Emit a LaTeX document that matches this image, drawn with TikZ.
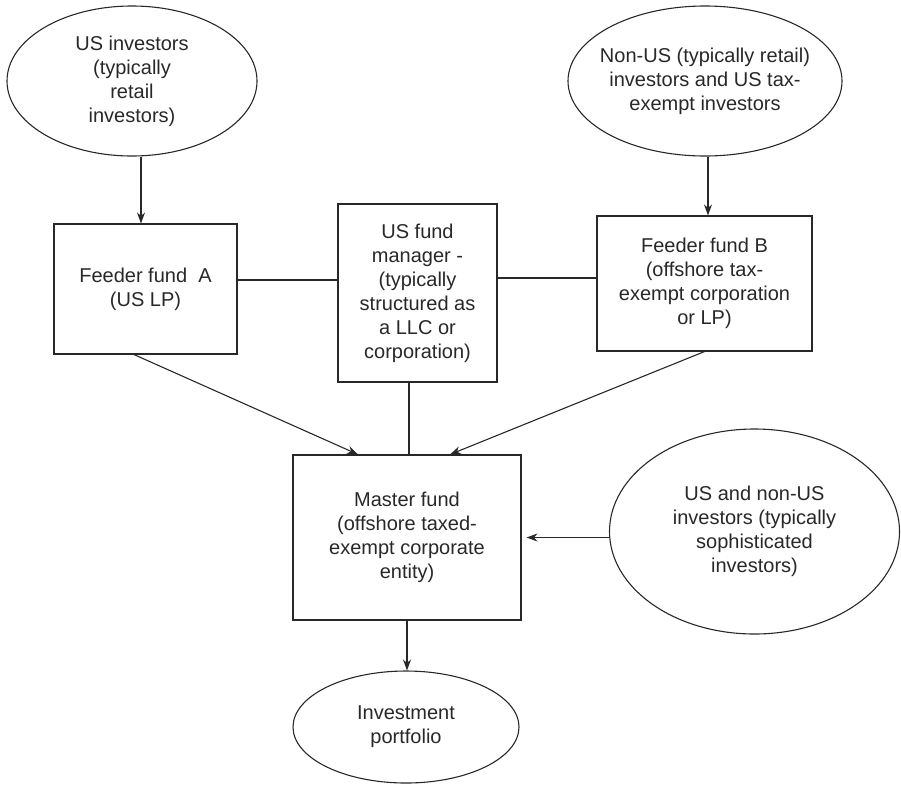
\documentclass[tikz,border=0pt]{standalone}
\usepackage{fontspec}
\setmainfont{Liberation Sans}
\usetikzlibrary{shapes.geometric,arrows.meta,calc}
\definecolor{ink}{RGB}{40,40,40}
\begin{document}
\begin{tikzpicture}[x=1pt,y=-1pt,
  every node/.style={font=\fontsize{20}{24}\selectfont, text=ink, align=center, inner sep=0pt},
  box/.style={draw=ink, line width=1.1pt, rectangle},
  oval/.style={draw=ink, line width=1.1pt, ellipse},
  lbl/.style={draw=none},
  arr/.style={draw=ink, line width=1.1pt, -{Stealth[length=11pt,width=8pt]}},
  ln/.style={draw=ink, line width=1.1pt}]
\useasboundingbox (0,0) rectangle (901,785);

\node[oval, minimum width=250pt, minimum height=150pt] (e1) at (132,81)
  {US investors\\(typically\\retail\\investors)};
\node[oval, minimum width=274pt, minimum height=150pt,
  label={[lbl]center:{Non-US (typically retail)\\investors and US tax-\\exempt investors}}] (e2) at (705,81) {};
\node[box, minimum width=183pt, minimum height=130pt] (a) at (145.5,289)
  {Feeder fund\ \ A\\(US LP)};
\node[box, minimum width=159pt, minimum height=178pt] (m) at (417.5,293)
  {US fund\\manager -\\(typically\\structured as\\a LLC or\\corporation)};
\node[box, minimum width=215pt, minimum height=135pt] (b) at (704.5,283.5)
  {Feeder fund B\\(offshore tax-\\exempt corporation\\or LP)};
\node[box, minimum width=228pt, minimum height=165pt] (f) at (407,537.5)
  {Master fund\\(offshore taxed-\\exempt corporate\\entity)};
\node[oval, minimum width=290pt, minimum height=205pt] (e3) at (754.5,531.5)
  {US and non-US\\investors (typically\\sophisticated\\investors)};
\node[oval, minimum width=226pt, minimum height=112pt] (p) at (406,727)
  {Investment\\portfolio};

\draw[arr] ([xshift=9pt]e1.south) -- ([xshift=9pt]e1.south |- a.north);
\draw[arr] ([xshift=3pt]e2.south) -- ([xshift=3pt]e2.south |- b.north);
\draw[ln] ([yshift=9pt]a.east) -- ([yshift=9pt]a.east -| m.west);
\draw[ln] ([yshift=15pt]m.east) -- ([yshift=15pt]m.east -| b.west);
\draw[arr] ([xshift=-11.5pt]a.south) -- ([xshift=-49pt]f.north);
\draw[arr] (b.south) -- ([xshift=43pt]f.north);
\draw[ln] ([xshift=-8.5pt]m.south) -- ([xshift=-8.5pt]m.south |- f.north);
\draw[arr, shorten >=5pt] (e3.west |- f.east) -- (f.east);
\draw[arr] (f.south) -- (f.south |- p.north);
\end{tikzpicture}
\end{document}
